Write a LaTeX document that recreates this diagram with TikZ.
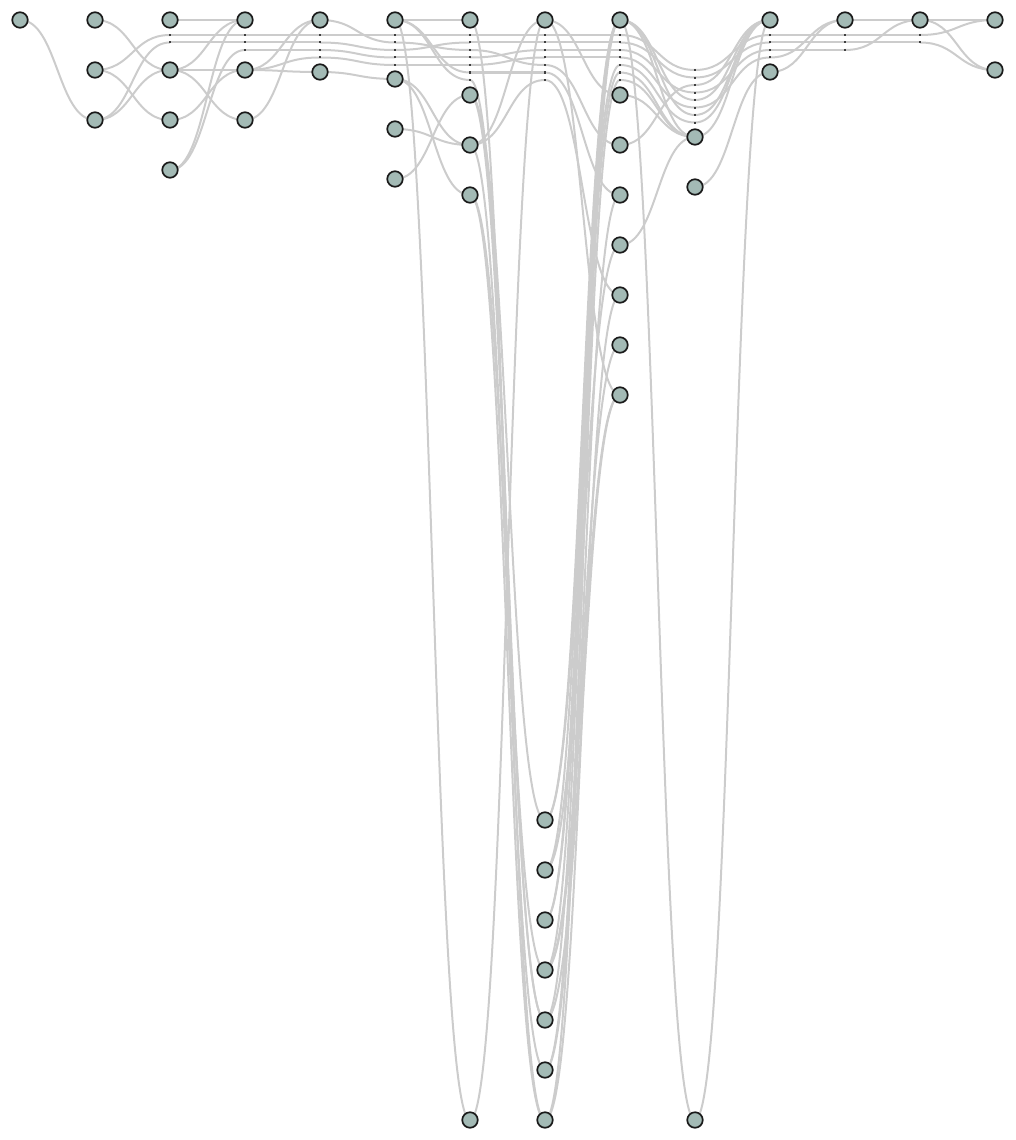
\documentclass[tikz,border=0pt]{standalone}
\usetikzlibrary{calc}
\pgfdeclarelayer{bg}
\pgfsetlayers{bg,main}
\definecolor{nodefill}{RGB}{163,186,181}
\definecolor{nodeline}{RGB}{26,26,26}
\definecolor{edgecol}{RGB}{204,204,204}
\newcommand{\bumpedge}[2]{\draw[edgeline] (#1.center) .. controls ($(#1.center)+(37.5,0)$) and ($(#2.center)+(-37.5,0)$) .. (#2.center);}
\begin{document}
\begin{tikzpicture}[x=1pt,y=-1pt,
  vtx/.style={circle,draw=nodeline,fill=nodefill,line width=1.7pt,minimum size=15.5pt,inner sep=0pt},
  dum/.style={rectangle,fill=black!75,minimum size=2pt,inner sep=0pt},
  edgeline/.style={draw=edgecol,line width=2pt}]
\useasboundingbox (0,0) rectangle (1015,1140);
% real nodes
\foreach \n/\x/\y in {A0/20/20,
  B0/95/20, B1/95/70, B2/95/120,
  C0/170/20, C1/170/70, C2/170/120, C3/170/170,
  D0/245/20, D1/245/70, D2/245/120,
  E0/320/20, E1/320/72,
  F0/395/20, F1/395/79, F2/395/129, F3/395/179,
  G0/470/20, G1/470/95, G2/470/145, G3/470/195, G4/470/1120,
  H0/545/20, H1/545/820, H2/545/870, H3/545/920, H4/545/970, H5/545/1020, H6/545/1070, H7/545/1120,
  I0/620/20, I1/620/95, I2/620/145, I3/620/195, I4/620/245, I5/620/295, I6/620/345, I7/620/395,
  J1/695/137, J2/695/187, J3/695/1120,
  K0/770/20, K1/770/72,
  L0/845/20,
  M0/920/20,
  N0/995/20, N1/995/70}
  {\node[vtx] (\n) at (\x,\y) {};}
% dummy points of long edges
\foreach \n/\x/\y in {Cx1/170/35, Cx2/170/42.5,
  Dx1/245/35, Dx2/245/42.5, Dx3/245/50,
  Ex1/320/35, Ex2/320/42.5, Ex3/320/50, Ex4/320/57.5,
  Fx1/395/35, Fx2/395/42.5, Fx3/395/50, Fx4/395/57.5, Fx5/395/65,
  Gx1/470/35, Gx2/470/42.5, Gx3/470/50, Gx4/470/57.5, Gx5/470/65, Gx6/470/72.5, Gx7/470/80,
  Hx1/545/35, Hx2/545/42.5, Hx3/545/50, Hx4/545/57.5, Hx5/545/65, Hx6/545/72.5, Hx7/545/80,
  Ix1/620/35, Ix2/620/42.5, Ix3/620/50, Ix4/620/57.5, Ix5/620/65, Ix6/620/72.5, Ix7/620/80,
  Jx1/695/70, Jx2/695/77.5, Jx3/695/85, Jx4/695/92.5, Jx5/695/100, Jx6/695/107.5, Jx7/695/115, Jx8/695/122.5,
  Kx1/770/35, Kx2/770/42.5, Kx3/770/50, Kx4/770/57.5,
  Lx1/845/35, Lx2/845/42.5, Lx3/845/50,
  Mx1/920/35, Mx2/920/42.5}
  {\node[dum] (\n) at (\x,\y) {};}
\begin{pgfonlayer}{bg}
\foreach \a/\b in {A0/B2,
  B0/C1, B1/Cx1, B1/C2, B2/Cx2, B2/C1,
  C0/D0, Cx1/Dx1, Cx2/Dx2, C1/D0, C1/D1, C1/D2, C2/D1, C3/Dx3, C3/D0,
  Dx1/Ex1, Dx2/Ex2, Dx3/Ex3, D1/Ex4, D1/E0, D1/E1, D2/E0,
  E0/Fx2, Ex1/Fx1, Ex2/Fx3, Ex3/Fx4, Ex4/Fx5, E1/F1,
  F0/G0, F0/Gx6, F0/Gx7, F0/G4, Fx1/Gx1, Fx2/Gx3, Fx3/Gx2, Fx4/Gx4, Fx5/Gx5, F1/G2, F1/G3, F2/G2, F3/G1,
  Gx1/Hx1, Gx2/Hx2, Gx4/Hx3, Gx5/Hx4, Gx3/Hx5, Gx6/Hx6, Gx7/H5, G0/H7, G1/H1, G1/H5, G2/H0, G2/Hx7, G2/H6, G3/H4, G3/H7, G4/H0,
  Hx1/Ix1, Hx2/Ix2, Hx3/Ix3, Hx4/Ix4, Hx5/I2, Hx6/I3, Hx7/I5, H0/I1, H0/I7, H1/I0, H1/Ix5, H2/I0, H2/I4, H3/I0, H3/Ix6, H4/I0, H4/I6, H4/I7, H5/I0, H5/I7, H6/Ix7, H6/I3, H7/I0, H7/I5,
  Ix1/Jx1, Ix2/Jx2, I2/Jx3, Ix3/Jx4, I0/Jx5, Ix4/Jx6, I0/Jx7, Ix5/Jx8, Ix6/J1, Ix7/J1, I1/J1, I4/J1, I0/J1, I0/J3,
  Jx1/Kx1, Jx2/Kx2, Jx4/Kx3, Jx6/Kx4, Jx3/K0, Jx5/K0, Jx7/K0, Jx8/K0, J1/K0, J3/K0, J2/K1,
  Kx1/Lx1, Kx2/Lx2, Kx3/Lx3, Kx4/L0, K1/L0,
  L0/M0, Lx1/Mx1, Lx2/Mx2, Lx3/M0,
  M0/N0, M0/N1, Mx1/N0, Mx2/N1}
  {\bumpedge{\a}{\b}}
\end{pgfonlayer}
\end{tikzpicture}
\end{document}
